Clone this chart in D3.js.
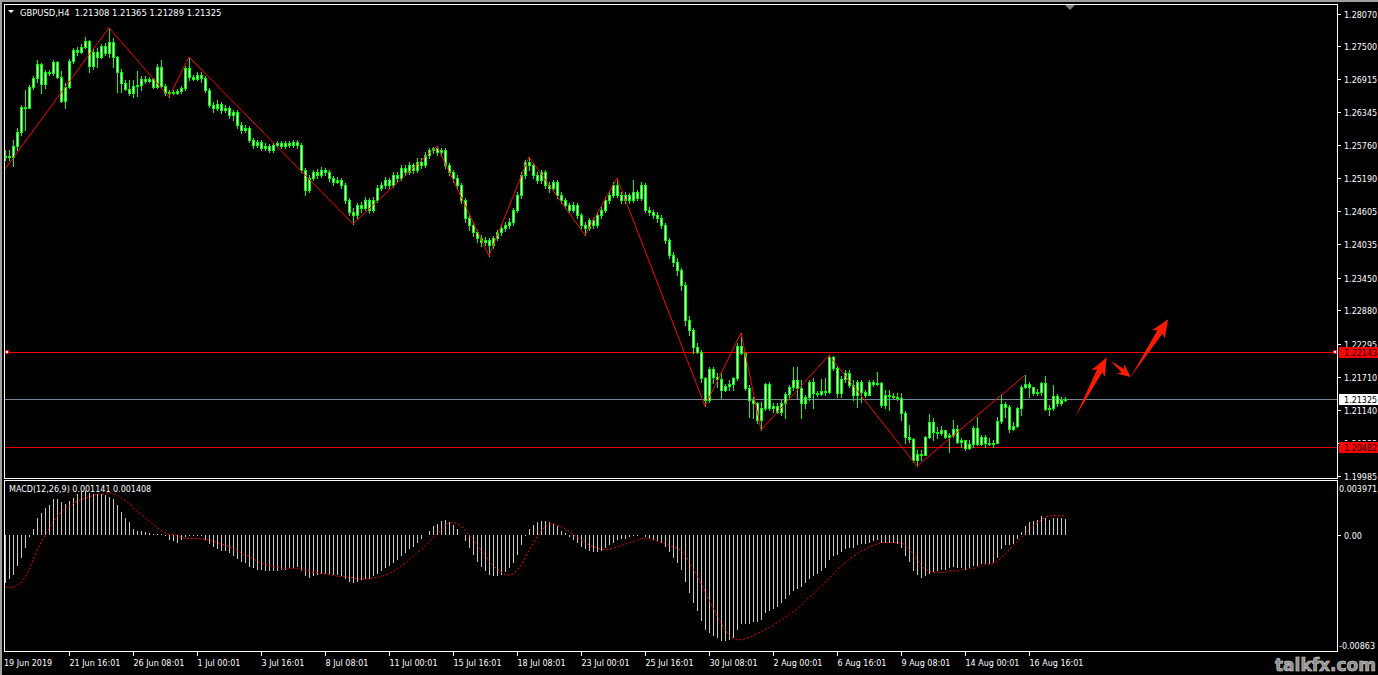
<!DOCTYPE html>
<html><head><meta charset="utf-8">
<script src="https://cdn.jsdelivr.net/npm/d3@7"></script>
<style>html,body{margin:0;padding:0;background:#000;overflow:hidden}svg text{font-family:"DejaVu Sans",Tahoma,sans-serif;font-size:8px;white-space:pre}</style>
</head><body><svg id="c" width="1378" height="675"></svg>
<script>
const symbolTitle = "GBPUSD,H4";
const headerOHLC = ["1.21308", "1.21365", "1.21289", "1.21325"];
const firstOpen = 1.2556;
const close = [
1.2558,1.2556,1.2575,1.2600,1.2643,1.2642,1.2678,1.2694,1.2719,1.2684,
1.2705,1.2703,1.2722,1.2696,1.2654,1.2678,1.2724,1.2743,1.2740,1.2748,
1.2759,1.2715,1.2740,1.2731,1.2750,1.2738,1.2757,1.2731,1.2705,1.2685,
1.2675,1.2668,1.2680,1.2682,1.2692,1.2689,1.2692,1.2678,1.2713,1.2680,
1.2668,1.2670,1.2668,1.2671,1.2677,1.2712,1.2696,1.2692,1.2699,1.2694,
1.2673,1.2647,1.2642,1.2649,1.2638,1.2642,1.2629,1.2635,1.2612,1.2603,
1.2607,1.2586,1.2577,1.2582,1.2572,1.2575,1.2568,1.2577,1.2580,1.2575,
1.2580,1.2577,1.2582,1.2577,1.2533,1.2498,1.2519,1.2530,1.2524,1.2533,
1.2530,1.2519,1.2512,1.2516,1.2507,1.2481,1.2460,1.2454,1.2472,1.2467,
1.2481,1.2463,1.2481,1.2502,1.2507,1.2516,1.2507,1.2524,1.2519,1.2537,
1.2530,1.2542,1.2533,1.2547,1.2542,1.2559,1.2568,1.2572,1.2565,1.2568,
1.2542,1.2530,1.2519,1.2507,1.2481,1.2449,1.2437,1.2425,1.2414,1.2407,
1.2411,1.2402,1.2414,1.2425,1.2432,1.2437,1.2442,1.2463,1.2489,1.2524,
1.2547,1.2542,1.2524,1.2516,1.2530,1.2507,1.2502,1.2512,1.2489,1.2481,
1.2472,1.2463,1.2472,1.2454,1.2437,1.2432,1.2446,1.2437,1.2454,1.2463,
1.2481,1.2489,1.2507,1.2489,1.2481,1.2489,1.2481,1.2495,1.2484,1.2507,
1.2463,1.2460,1.2454,1.2449,1.2437,1.2411,1.2384,1.2372,1.2358,1.2332,
1.2271,1.2253,1.2223,1.2215,1.2169,1.2131,1.2185,1.2171,1.2167,1.2148,
1.2155,1.2159,1.2169,1.2225,1.2213,1.2152,1.2131,1.2125,1.2096,1.2117,
1.2159,1.2117,1.2120,1.2110,1.2125,1.2141,1.2153,1.2166,1.2152,1.2125,
1.2136,1.2162,1.2143,1.2141,1.2146,1.2145,1.2206,1.2187,1.2143,1.2167,
1.2178,1.2157,1.2139,1.2162,1.2145,1.2139,1.2162,1.2159,1.2160,1.2122,
1.2139,1.2138,1.2136,1.2134,1.2108,1.2066,1.2062,1.2026,1.2036,1.2034,
1.2066,1.2092,1.2075,1.2073,1.2078,1.2066,1.2069,1.2080,1.2057,1.2061,
1.2047,1.2054,1.2082,1.2054,1.2066,1.2055,1.2054,1.2055,1.2094,1.2124,
1.2118,1.2080,1.2085,1.2117,1.2153,1.2159,1.2153,1.2143,1.2145,1.2160,
1.2115,1.2117,1.2138,1.2125,1.2131,1.21325];
const high = [
1.2568,1.2568,1.2586,1.2607,1.2647,1.2673,1.2682,1.2698,1.2726,1.2720,
1.2708,1.2708,1.2726,1.2724,1.2706,1.2685,1.2727,1.2747,1.2748,1.2754,
1.2766,1.2761,1.2747,1.2747,1.2754,1.2755,1.2782,1.2764,1.2733,1.2710,
1.2691,1.2691,1.2691,1.2706,1.2698,1.2698,1.2696,1.2694,1.2719,1.2726,
1.2684,1.2673,1.2673,1.2675,1.2680,1.2715,1.2731,1.2699,1.2705,1.2705,
1.2698,1.2677,1.2652,1.2656,1.2652,1.2647,1.2645,1.2638,1.2638,1.2617,
1.2612,1.2610,1.2589,1.2586,1.2586,1.2580,1.2579,1.2580,1.2584,1.2584,
1.2584,1.2584,1.2586,1.2586,1.2580,1.2537,1.2524,1.2533,1.2535,1.2538,
1.2537,1.2533,1.2523,1.2521,1.2519,1.2510,1.2484,1.2467,1.2475,1.2477,
1.2486,1.2484,1.2486,1.2507,1.2512,1.2521,1.2519,1.2530,1.2530,1.2542,
1.2542,1.2547,1.2545,1.2554,1.2554,1.2565,1.2572,1.2573,1.2575,1.2572,
1.2572,1.2545,1.2533,1.2524,1.2510,1.2484,1.2454,1.2442,1.2428,1.2419,
1.2416,1.2414,1.2418,1.2428,1.2437,1.2442,1.2449,1.2467,1.2495,1.2530,
1.2551,1.2556,1.2545,1.2530,1.2533,1.2533,1.2512,1.2516,1.2516,1.2495,
1.2484,1.2475,1.2477,1.2475,1.2458,1.2442,1.2449,1.2449,1.2460,1.2468,
1.2486,1.2495,1.2512,1.2519,1.2495,1.2495,1.2493,1.2516,1.2498,1.2512,
1.2510,1.2468,1.2463,1.2460,1.2454,1.2440,1.2414,1.2390,1.2379,1.2362,
1.2337,1.2278,1.2257,1.2230,1.2218,1.2171,1.2188,1.2188,1.2178,1.2178,
1.2159,1.2166,1.2171,1.2230,1.2248,1.2215,1.2157,1.2136,1.2127,1.2127,
1.2160,1.2162,1.2125,1.2125,1.2131,1.2145,1.2157,1.2188,1.2188,1.2166,
1.2139,1.2166,1.2169,1.2146,1.2167,1.2169,1.2209,1.2208,1.2190,1.2173,
1.2183,1.2183,1.2166,1.2166,1.2166,1.2148,1.2166,1.2166,1.2180,1.2162,
1.2148,1.2148,1.2143,1.2143,1.2143,1.2111,1.2087,1.2064,1.2043,1.2043,
1.2068,1.2106,1.2099,1.2083,1.2085,1.2078,1.2073,1.2096,1.2087,1.2064,
1.2061,1.2061,1.2085,1.2101,1.2069,1.2069,1.2064,1.2061,1.2101,1.2141,
1.2127,1.2122,1.2092,1.2118,1.2157,1.2174,1.2162,1.2153,1.2150,1.2162,
1.2173,1.2122,1.2157,1.2141,1.2136,1.21365];
const low = [
1.2551,1.2551,1.2540,1.2568,1.2594,1.2603,1.2642,1.2675,1.2687,1.2668,
1.2677,1.2699,1.2699,1.2694,1.2652,1.2642,1.2677,1.2720,1.2734,1.2738,
1.2747,1.2705,1.2710,1.2713,1.2729,1.2734,1.2731,1.2713,1.2670,1.2670,
1.2673,1.2664,1.2661,1.2663,1.2673,1.2685,1.2687,1.2677,1.2677,1.2678,
1.2664,1.2661,1.2666,1.2666,1.2668,1.2673,1.2691,1.2691,1.2691,1.2687,
1.2670,1.2643,1.2635,1.2638,1.2633,1.2635,1.2624,1.2621,1.2607,1.2598,
1.2600,1.2582,1.2572,1.2573,1.2568,1.2568,1.2565,1.2565,1.2573,1.2572,
1.2572,1.2573,1.2573,1.2572,1.2530,1.2489,1.2495,1.2516,1.2519,1.2521,
1.2524,1.2514,1.2507,1.2510,1.2502,1.2475,1.2454,1.2439,1.2449,1.2460,
1.2463,1.2458,1.2460,1.2477,1.2498,1.2502,1.2502,1.2503,1.2514,1.2516,
1.2524,1.2526,1.2528,1.2530,1.2537,1.2538,1.2554,1.2563,1.2559,1.2558,
1.2537,1.2524,1.2512,1.2502,1.2475,1.2442,1.2428,1.2418,1.2407,1.2400,
1.2402,1.2383,1.2397,1.2411,1.2419,1.2426,1.2432,1.2437,1.2460,1.2484,
1.2519,1.2533,1.2519,1.2510,1.2510,1.2502,1.2495,1.2498,1.2484,1.2475,
1.2467,1.2458,1.2460,1.2449,1.2432,1.2419,1.2428,1.2432,1.2433,1.2449,
1.2460,1.2475,1.2486,1.2486,1.2475,1.2475,1.2475,1.2477,1.2481,1.2481,
1.2460,1.2454,1.2449,1.2442,1.2432,1.2405,1.2379,1.2365,1.2349,1.2323,
1.2262,1.2244,1.2213,1.2213,1.2162,1.2120,1.2127,1.2160,1.2153,1.2134,
1.2146,1.2148,1.2148,1.2166,1.2211,1.2148,1.2101,1.2099,1.2090,1.2078,
1.2113,1.2113,1.2110,1.2108,1.2104,1.2099,1.2136,1.2148,1.2134,1.2099,
1.2117,1.2131,1.2117,1.2138,1.2139,1.2139,1.2143,1.2183,1.2136,1.2136,
1.2162,1.2153,1.2131,1.2118,1.2127,1.2136,1.2139,1.2155,1.2157,1.2118,
1.2117,1.2113,1.2134,1.2131,1.2096,1.2055,1.2057,1.2022,1.2015,1.2026,
1.2034,1.2064,1.2061,1.2064,1.2069,1.2064,1.2040,1.2066,1.2055,1.2048,
1.2043,1.2045,1.2048,1.2052,1.2052,1.2048,1.2052,1.2048,1.2055,1.2090,
1.2101,1.2075,1.2078,1.2083,1.2104,1.2152,1.2136,1.2139,1.2139,1.2139,
1.2113,1.2104,1.2113,1.2120,1.2122,1.21289];
const macdMain = [
-0.0036,-0.0033,-0.0030,-0.0023,-0.0017,-0.0010,-0.0002,0.0004,0.0012,0.0016,
0.0020,0.0022,0.0026,0.0026,0.0024,0.0023,0.0025,0.0027,0.0030,0.0032,
0.0032,0.0031,0.0030,0.0030,0.0030,0.0029,0.0028,0.0026,0.0022,0.0017,
0.0012,0.0009,0.0004,0.00025,0.00025,0.00017,0.00012,0.00002,0.00007,0.00002,
-0.0001,-0.0004,-0.0005,-0.0006,-0.0004,-0.0002,-0.0001,-0.00007,-0.00007,-0.00007,
-0.0004,-0.0007,-0.0009,-0.0011,-0.0012,-0.0012,-0.0014,-0.0016,-0.0018,-0.0020,
-0.0021,-0.0024,-0.0025,-0.0026,-0.0026,-0.0027,-0.0027,-0.0027,-0.0027,-0.0026,
-0.0026,-0.0025,-0.0025,-0.0024,-0.0027,-0.0031,-0.0032,-0.0031,-0.0030,-0.0029,
-0.0029,-0.0029,-0.0030,-0.0030,-0.0031,-0.0033,-0.0035,-0.0036,-0.0035,-0.0034,
-0.0033,-0.0033,-0.0031,-0.0029,-0.0027,-0.0025,-0.0023,-0.0021,-0.0019,-0.0016,
-0.0014,-0.0011,-0.0009,-0.0006,-0.0003,0.0000,0.0003,0.0006,0.0008,0.0010,
0.0011,0.0009,0.0007,0.0004,0.0000,-0.0005,-0.0010,-0.0015,-0.0020,-0.0024,
-0.0027,-0.0030,-0.0031,-0.0031,-0.0030,-0.0028,-0.0025,-0.0021,-0.0015,-0.0008,
-0.0001,0.0004,0.0007,0.0009,0.0010,0.0010,0.0009,0.0008,0.0006,0.0003,
0.0001,-0.0002,-0.0004,-0.0006,-0.0009,-0.0011,-0.0012,-0.0013,-0.0013,-0.0012,
-0.0010,-0.0008,-0.0006,-0.0004,-0.0003,-0.0003,-0.0002,-0.0001,-0.0001,0.0000,
-0.0002,-0.0003,-0.0004,-0.0005,-0.0006,-0.0009,-0.0013,-0.0017,-0.0021,-0.0026,
-0.0035,-0.0043,-0.0051,-0.0057,-0.0064,-0.0071,-0.0073,-0.0075,-0.0077,-0.0079,
-0.0079,-0.0078,-0.0077,-0.0071,-0.0066,-0.0066,-0.0066,-0.0065,-0.0065,-0.0063,
-0.0058,-0.0057,-0.0055,-0.0054,-0.0051,-0.0048,-0.0045,-0.0042,-0.0040,-0.0039,
-0.0036,-0.0033,-0.0031,-0.0029,-0.0027,-0.0025,-0.0019,-0.0016,-0.0015,-0.0013,
-0.0011,-0.0010,-0.0010,-0.0008,-0.0007,-0.0007,-0.0006,-0.0005,-0.0004,-0.0006,
-0.0006,-0.0006,-0.0006,-0.0007,-0.0010,-0.0016,-0.0020,-0.0027,-0.0030,-0.0032,
-0.0031,-0.0029,-0.0028,-0.0027,-0.0026,-0.0026,-0.0025,-0.0024,-0.0025,-0.0025,
-0.0026,-0.0025,-0.0023,-0.0023,-0.0022,-0.0022,-0.0022,-0.0021,-0.0017,-0.0011,
-0.0008,-0.0008,-0.0007,-0.0003,0.0002,0.0006,0.0009,0.0010,0.0011,0.0014,
0.0012,0.0011,0.0012,0.0012,0.0012,0.001141];
const macdSignal = [
-0.0039,-0.0039,-0.0039,-0.0037,-0.0035,-0.0031,-0.0026,-0.0018,-0.0011,-0.0005,
0.0000,0.0005,0.0010,0.0014,0.0017,0.0020,0.0021,0.0023,0.0025,0.0026,
0.0027,0.0028,0.0029,0.0030,0.0030,0.0030,0.0031,0.0030,0.0029,0.0027,
0.0025,0.0023,0.0020,0.0017,0.0015,0.0012,0.0010,0.0007,0.0005,0.0003,
0.0001,0.0000,0.0000,-0.0001,-0.0002,-0.0003,-0.0003,-0.0003,-0.0003,-0.0003,
-0.0004,-0.0004,-0.0005,-0.0006,-0.0007,-0.0008,-0.0009,-0.0011,-0.0012,-0.0014,
-0.0015,-0.0016,-0.0018,-0.0020,-0.0021,-0.0022,-0.0023,-0.0024,-0.0024,-0.0025,
-0.0025,-0.0025,-0.0025,-0.0025,-0.0026,-0.0026,-0.0027,-0.0028,-0.0028,-0.0029,
-0.0029,-0.0030,-0.0030,-0.0031,-0.0031,-0.0031,-0.0032,-0.0032,-0.0033,-0.0033,
-0.0033,-0.0033,-0.0032,-0.0032,-0.0031,-0.0030,-0.0029,-0.0027,-0.0025,-0.0023,
-0.0021,-0.0018,-0.0016,-0.0013,-0.0011,-0.0008,-0.0005,-0.0002,0.0001,0.0004,
0.0007,0.0009,0.0009,0.0008,0.0006,0.0003,-0.0001,-0.0004,-0.0008,-0.0012,
-0.0016,-0.0020,-0.0023,-0.0026,-0.0028,-0.0030,-0.0030,-0.0029,-0.0026,-0.0022,
-0.0017,-0.0011,-0.0006,-0.0001,0.0003,0.0006,0.0008,0.0008,0.0007,0.0006,
0.0004,0.0002,0.0000,-0.0002,-0.0004,-0.0006,-0.0008,-0.0009,-0.0010,-0.0011,
-0.0011,-0.0011,-0.0010,-0.0009,-0.0008,-0.0007,-0.0006,-0.0005,-0.0004,-0.0003,
-0.0003,-0.0003,-0.0004,-0.0005,-0.0006,-0.0007,-0.0008,-0.0009,-0.0010,-0.0012,
-0.0016,-0.0021,-0.0026,-0.0031,-0.0037,-0.0043,-0.0049,-0.0055,-0.0061,-0.0066,
-0.0071,-0.0075,-0.0077,-0.0078,-0.0078,-0.0077,-0.0076,-0.0075,-0.0073,-0.0072,
-0.0070,-0.0069,-0.0067,-0.0065,-0.0063,-0.0061,-0.0059,-0.0057,-0.0055,-0.0052,
-0.0049,-0.0046,-0.0044,-0.0041,-0.0038,-0.0035,-0.0032,-0.0029,-0.0026,-0.0023,
-0.0021,-0.0018,-0.0016,-0.0014,-0.0012,-0.0011,-0.0009,-0.0008,-0.0007,-0.0006,
-0.0006,-0.0006,-0.0006,-0.0006,-0.0006,-0.0008,-0.0011,-0.0015,-0.0019,-0.0023,
-0.0026,-0.0027,-0.0028,-0.0028,-0.0028,-0.0028,-0.0027,-0.0027,-0.0027,-0.0026,
-0.0026,-0.0025,-0.0025,-0.0024,-0.0023,-0.0022,-0.0022,-0.0021,-0.0020,-0.0017,
-0.0014,-0.0011,-0.0008,-0.0005,-0.0002,0.0001,0.0004,0.0007,0.0009,0.0011,
0.0013,0.0014,0.0014,0.0014,0.0014,0.001408];
const macdLabel = "MACD(12,26,9) 0.001141 0.001408";
const priceTicks = [1.28070,1.27500,1.26915,1.26345,1.25760,1.25190,1.24605,1.24035,1.23450,1.22880,1.22295,1.21710,1.21140,1.20555,1.19985];
const macdTicks = [0.003971, 0, -0.00863];
const macdTickLabels = ["0.003971", "0.00", "-0.00863"];
const dateLabels = ["19 Jun 2019","21 Jun 16:01","26 Jun 08:01","1 Jul 00:01","3 Jul 16:01","8 Jul 08:01","11 Jul 00:01","15 Jul 16:01","18 Jul 08:01","23 Jul 00:01","25 Jul 16:01","30 Jul 08:01","2 Aug 00:01","6 Aug 16:01","9 Aug 08:01","14 Aug 00:01","16 Aug 16:01"];
const dateLabelIdx = [0,16,32,48,64,80,96,112,128,144,160,176,192,208,224,240,256];
const zigzagIdx = [-0.2,26,41,46,87,108,121,131,145,153,175,184,189,206,228,255];
const zigzagPrice = [1.2533,1.2782,1.2661,1.2731,1.2439,1.2575,1.2383,1.2556,1.2419,1.2519,1.2120,1.2248,1.2078,1.2209,1.2015,1.2174];
const resistanceLevel = 1.22143;
const supportLevel = 1.20482;
const bidPrice = 1.21325;
const arrowTailIdx = [267.75, 276.4, 281.4];
const arrowTailPrice = [1.2103, 1.2199, 1.2171];
const arrowTipIdx = [275.4, 281.4, 290.8];
const arrowTipPrice = [1.2205, 1.2171, 1.2272];
const watermark = "talkfx.com";

const svg = d3.select("#c");
const N = close.length;
const open = close.map((c, i) => i === 0 ? firstOpen : close[i - 1]);
open[N - 1] = +headerOHLC[0];

const x = d3.scaleLinear().domain([0, 265]).range([5, 1065]);
const y = d3.scaleLinear().domain([1.19985, 1.28070]).range([475.5, 13.5]);
const ym = d3.scaleLinear().domain([-0.00863, 0.003971]).range([651, 481]);

svg.append("rect").attr("width", 1378).attr("height", 675).attr("fill", "#000");
svg.append("rect").attr("x", 0).attr("y", 0).attr("width", 1378).attr("height", 2).attr("fill", "#a0a0a0");
svg.append("rect").attr("x", 0).attr("y", 0).attr("width", 2).attr("height", 675).attr("fill", "#a0a0a0");

const defs = svg.append("defs");
defs.append("clipPath").attr("id", "mainClip").append("rect").attr("x", 5).attr("y", 5).attr("width", 1332).attr("height", 473);
defs.append("clipPath").attr("id", "macdClip").append("rect").attr("x", 5).attr("y", 482).attr("width", 1332).attr("height", 169);
defs.append("clipPath").attr("id", "hiddenTick").append("rect").attr("x", 1338).attr("y", 430).attr("width", 40).attr("height", 11);

const main = svg.append("g").attr("clip-path", "url(#mainClip)");

const hl = (p, col) => main.append("line").attr("x1", 4).attr("x2", 1337)
  .attr("y1", Math.round(y(p)) + 0.5).attr("y2", Math.round(y(p)) + 0.5)
  .attr("stroke", col).attr("stroke-width", 1);
hl(supportLevel, "#e00000");
hl(bidPrice, "#778899");
hl(resistanceLevel, "#ff0000");

const cg = main.append("g");
d3.range(N).forEach(i => {
  const cx = Math.round(x(i));
  const yh = Math.round(y(high[i])), yl = Math.round(y(low[i]));
  cg.append("rect").attr("x", cx).attr("y", yh).attr("width", 1).attr("height", Math.max(1, yl - yh + 1)).attr("fill", "#00ff00");
  const bt = Math.round(y(Math.max(open[i], close[i]))), bb = Math.round(y(Math.min(open[i], close[i])));
  cg.append("rect").attr("x", cx - 1).attr("y", bt).attr("width", 3).attr("height", bb - bt + 1).attr("fill", "#00ff00");
  if (bb - bt >= 2) cg.append("rect").attr("x", cx).attr("y", bt + 1).attr("width", 1).attr("height", bb - bt - 1).attr("fill", "#ffffff");
});

main.append("path").datum(zigzagIdx.map((d, k) => [x(d), y(zigzagPrice[k])]))
  .attr("d", d3.line()).attr("fill", "none").attr("stroke", "#ff0000").attr("stroke-width", 1);

const ry = Math.round(y(resistanceLevel));
[5, 1333].forEach(px => svg.append("rect").attr("x", px + 0.5).attr("y", ry - 1.5).attr("width", 3).attr("height", 3)
  .attr("fill", "#fff").attr("stroke", "#ff0000").attr("stroke-width", 1));

arrowTailIdx.forEach((ti, k) => {
  const tx = x(ti), ty = y(arrowTailPrice[k]);
  const px = x(arrowTipIdx[k]), py = y(arrowTipPrice[k]);
  const dx = px - tx, dy = py - ty, len = Math.hypot(dx, dy);
  const ux = dx / len, uy = dy / len, nx = -uy, ny = ux;
  const headLen = k === 1 ? 10 : 15, headW = k === 1 ? 6 : 7.5, shaftW = k === 1 ? 2 : 3, barb = 3;
  const bx = px - ux * headLen, by = py - uy * headLen;
  const pts = [[tx, ty], [bx + nx * shaftW, by + ny * shaftW], [bx - ux * barb + nx * headW, by - uy * barb + ny * headW],
    [px, py], [bx - ux * barb - nx * headW, by - uy * barb - ny * headW], [bx - nx * shaftW, by - ny * shaftW]];
  svg.append("polygon").attr("points", pts.map(p => p.join(",")).join(" ")).attr("fill", "#ff1a00");
});

svg.append("rect").attr("x", 4.5).attr("y", 4.5).attr("width", 1333).attr("height", 474).attr("fill", "none").attr("stroke", "#fff");
svg.append("rect").attr("x", 4.5).attr("y", 480.5).attr("width", 1333).attr("height", 171).attr("fill", "none").attr("stroke", "#fff");

const pa = svg.append("g");
priceTicks.forEach(p => {
  const ty = Math.round(y(p)) + 0.5;
  pa.append("line").attr("x1", 1338).attr("x2", 1341).attr("y1", ty).attr("y2", ty).attr("stroke", "#fff");
  const t = pa.append("text").attr("x", 1344).attr("y", ty + 3).attr("fill", "#fff").text(p.toFixed(5));
  if (Math.abs(p - supportLevel) < 0.001) t.attr("clip-path", "url(#hiddenTick)");
});
const tag = (p, bg, label) => {
  const ty = Math.round(y(p));
  pa.append("rect").attr("x", 1339).attr("y", ty - 5).attr("width", 39).attr("height", 11).attr("fill", bg);
  pa.append("text").attr("x", 1344).attr("y", ty + 3.5).attr("fill", "#000").text(label);
};
tag(resistanceLevel, "#ff0000", resistanceLevel.toFixed(5));
tag(bidPrice, "#ffffff", bidPrice.toFixed(5));
tag(supportLevel, "#ff0000", supportLevel.toFixed(5));

svg.append("polygon").attr("points", "8,10 14,10 11,13").attr("fill", "#fff");
svg.append("text").attr("x", 20).attr("y", 16).attr("fill", "#fff").style("font-size", "8.4px").text(symbolTitle + "  " + headerOHLC.join(" "));
svg.append("polygon").attr("points", "1065,5 1075,5 1070,10").attr("fill", "#808080");

const mg = svg.append("g").attr("clip-path", "url(#macdClip)");
const y0 = Math.round(ym(0));
macdMain.forEach((v, i) => {
  const cx = Math.round(x(i));
  const yv = Math.round(ym(v));
  const top = Math.min(y0, yv), h = Math.abs(yv - y0);
  if (h > 0) mg.append("rect").attr("x", cx).attr("y", top).attr("width", 1).attr("height", h).attr("fill", "#c8c8c8");
});
mg.append("path").datum(macdSignal.map((v, i) => [x(i) + 0.5, ym(v)]))
  .attr("d", d3.line()).attr("fill", "none").attr("stroke", "#ff0000").attr("stroke-width", 1).attr("stroke-dasharray", "2,2");
svg.append("text").attr("x", 9).attr("y", 492).attr("fill", "#fff").text(macdLabel);
macdTicks.forEach((v, k) => {
  let ty = Math.round(ym(v)) + 0.5;
  if (k === 0) ty = 488.5;
  if (k === 2) ty = 645.5;
  if (k === 1) svg.append("line").attr("x1", 1338).attr("x2", 1341).attr("y1", ty).attr("y2", ty).attr("stroke", "#fff");
  svg.append("text").attr("x", k === 1 ? 1344 : 1339).attr("y", ty + 3).attr("fill", "#fff").text(macdTickLabels[k]);
});

dateLabelIdx.forEach((d, k) => {
  const tx = Math.round(x(d)) + 0.5;
  if (k > 0) svg.append("line").attr("x1", tx).attr("x2", tx).attr("y1", 652).attr("y2", 656).attr("stroke", "#fff");
  svg.append("text").attr("x", k === 0 ? 4 : tx).attr("y", 666).attr("fill", "#fff").text(dateLabels[k]);
});

svg.append("text").attr("x", 1376).attr("y", 671).attr("text-anchor", "end")
  .style("font-family", "'DejaVu Sans',sans-serif").style("font-size", "17px").style("font-weight", "bold")
  .attr("fill", "#8c8c8c").attr("stroke", "#d8d8d8").attr("stroke-width", 0.6).text(watermark);
</script></body></html>
